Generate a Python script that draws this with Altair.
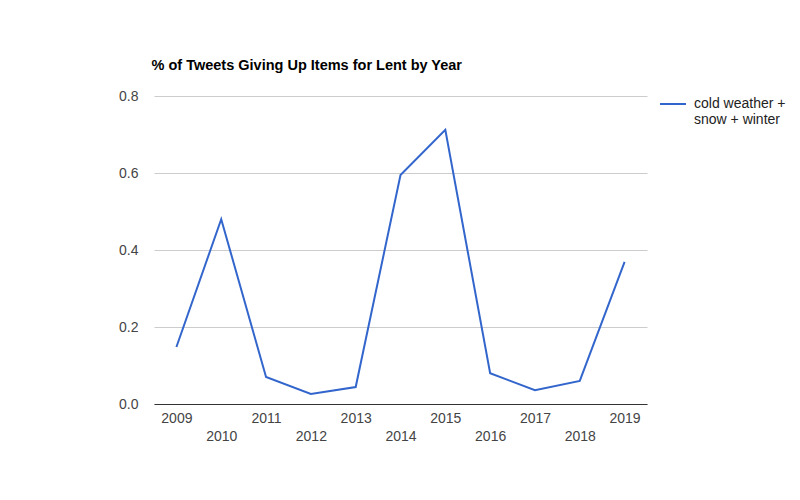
import altair as alt
import pandas as pd

years = [2009, 2010, 2011, 2012, 2013, 2014, 2015, 2016, 2017, 2018, 2019]
values = [0.148, 0.48, 0.07, 0.026, 0.044, 0.595, 0.712, 0.08, 0.036, 0.06, 0.369]
series_name = "cold weather + snow + winter"

df = pd.DataFrame({"year": years, "value": values, "series": series_name})

FONT = "Liberation Sans"

chart = alt.Chart(df).mark_line(strokeWidth=2).encode(
    x=alt.X("year:Q",
            scale=alt.Scale(domain=[2008.5, 2019.5], nice=False, zero=False),
            axis=alt.Axis(values=years, format="d", title=None, grid=False,
                          ticks=False, domainColor="#333333", domainWidth=1,
                          labelColor="#444444", labelFontSize=14, labelFont=FONT,
                          labelPadding=alt.ExprRef("datum.value % 2 == 0 ? 25 : 7"),
                          labelOverlap=False, labelFlush=False)),
    y=alt.Y("value:Q",
            scale=alt.Scale(domain=[0, 0.8], nice=False),
            axis=alt.Axis(values=[0, 0.2, 0.4, 0.6, 0.8], format=".1f", title=None,
                          domain=False, ticks=False, gridColor="#cccccc",
                          labelColor="#444444", labelFontSize=14, labelFont=FONT,
                          labelPadding=16)),
    color=alt.Color("series:N",
                    scale=alt.Scale(range=["#3366cc"]),
                    legend=alt.Legend(title=None, orient="none", legendX=505, legendY=-6,
                                      symbolType="stroke", symbolSize=676,
                                      symbolStrokeWidth=2, labelFont=FONT,
                                      labelFontSize=14, labelColor="#222222",
                                      labelOffset=7,
                                      labelExpr="['cold weather +', 'snow + winter']",
                                      labelLimit=0)),
).properties(
    width=493, height=308,
    title=alt.TitleParams("% of Tweets Giving Up Items for Lent by Year", anchor="start",
                          font=FONT, fontSize=14.5, fontWeight="bold", color="#000000",
                          offset=16, dx=33),
    autosize=alt.AutoSizeParams(type="none"),
    padding={"left": 154, "top": 96, "right": 153, "bottom": 96},
).configure_view(stroke=None)

chart.save("out.html", embed_options={"renderer": "svg", "actions": False})
